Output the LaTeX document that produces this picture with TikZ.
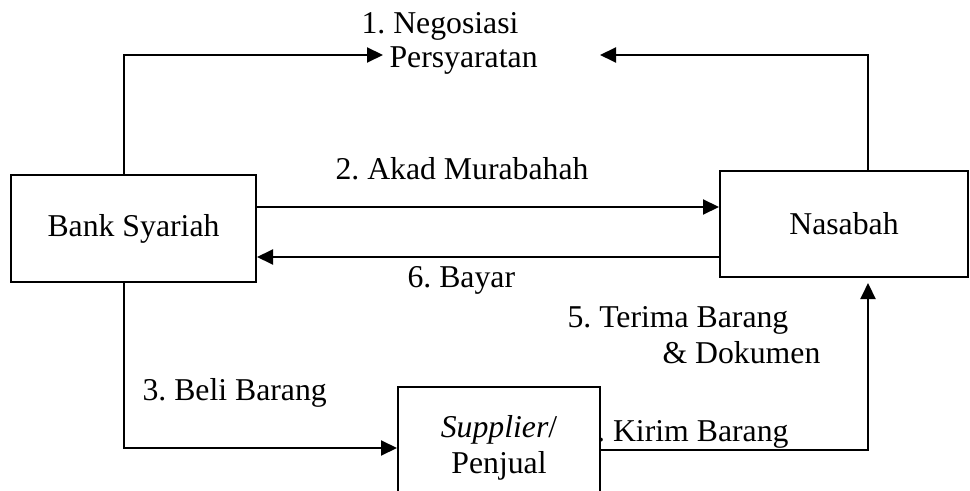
\documentclass[tikz,border=0pt]{standalone}
\usepackage{fontspec}
\setmainfont{Liberation Serif}
\usetikzlibrary{arrows.meta,positioning,calc}
\frenchspacing

\begin{document}
\begin{tikzpicture}[x=0.4pt,y=-0.4pt,
  every node/.style={font=\fontsize{12.7}{14.4}\selectfont},
  box/.style={draw,line width=0.8pt,fill=white,inner sep=0pt},
  lbl/.style={anchor=base west,inner sep=0pt},
  arr/.style={line width=0.8pt,-{Triangle[length=6.4pt,width=6pt]}}]
  \clip (0,0) rectangle (970,491);
  \node[box,minimum width=98pt,minimum height=42.8pt] (bank) at (133.5,228.5) {Bank Syariah};
  \node[box,minimum width=99.2pt,minimum height=42.4pt] (nas) at (844,224) {Nasabah};
  \node[lbl] (nego1) at (361,34) {1. Negosiasi};
  \node[lbl] (nego2) at (389,68) {Persyaratan};
  \node[lbl] (akad) at (335,180) {2. Akad Murabahah};
  \node[lbl] (bayar) at (407,288) {6. Bayar};
  \node[lbl] (terima1) at (567,327) {5. Terima Barang};
  \node[lbl] (terima2) at (662,363) {\& Dokumen};
  \node[lbl] (beli) at (142,400) {3. Beli Barang};
  \node[anchor=base east,inner sep=0pt] (kirim) at (789,441) {4. Kirim Barang};
  \node[box,align=center,minimum width=80.8pt,minimum height=48.8pt] (sup) at (499,448) {\textit{Supplier}/\\Penjual}; % kotak menutupi angka 4
  \coordinate (negoL) at (383,55);
  \coordinate (negoR) at (600,55);
  \coordinate (kirimtop) at (868,283);
  \draw[arr] ($(bank.north)+(-9.5,0)$) |- (negoL);
  \draw[arr] ($(nas.north)+(24,0)$) |- (negoR);
  \draw[arr] ($(bank.east)+(0,-21.5)$) -- ($(nas.west)+(0,-17)$);
  \draw[arr] ($(nas.west)+(0,33)$) -- ($(bank.east)+(0,28.5)$);
  \draw[arr] ($(bank.south)+(-9.5,0)$) |- (sup.west);
  \draw[arr] ($(sup.east)+(0,2)$) -| (kirimtop);
\end{tikzpicture}
\end{document}
